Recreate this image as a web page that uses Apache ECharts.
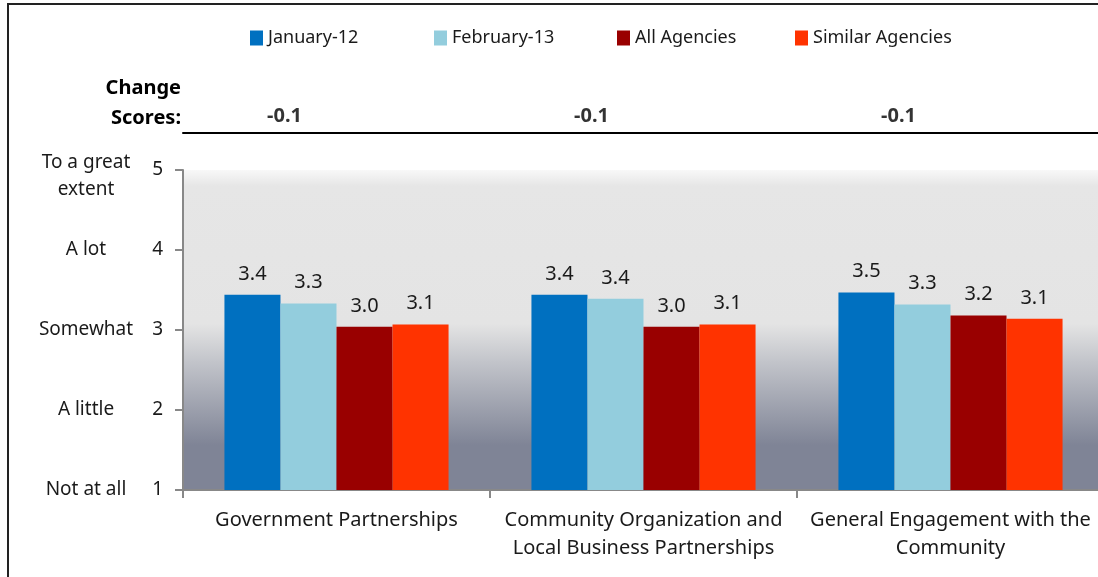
<!DOCTYPE html>
<html>
<head>
<meta charset="utf-8">
<script src="https://cdn.jsdelivr.net/npm/echarts@6/dist/echarts.min.js"></script>
<style>
  html, body { margin: 0; padding: 0; background: #fff; overflow: hidden; }
  #chart { width: 1104px; height: 577px; }
</style>
</head>
<body>
<div id="chart"></div>
<script>
// data
var categories = ['Government Partnerships', 'Community Organization and\nLocal Business Partnerships', 'General Engagement with the\nCommunity']
var seriesNames = ['January-12', 'February-13', 'All Agencies', 'Similar Agencies']
var jan12 = [3.44, 3.44, 3.47]
var feb13 = [3.33, 3.39, 3.32]
var allAgencies = [3.04, 3.04, 3.18]
var similarAgencies = [3.07, 3.07, 3.14]
var changeScores = [-0.1, -0.1, -0.1]
var levelNames = ['Not at all', 'A little', 'Somewhat', 'A lot', 'To a great\nextent']

var FONT = '"Noto Sans", "Open Sans", sans-serif'
var colors = ['#0070c0', '#93cddd', '#990000', '#ff3300']
var legendLeft = [245, 429, 612, 790]
var chart = echarts.init(document.getElementById('chart'))

function barSeries(i, data) {
  return {
    name: seriesNames[i],
    type: 'bar',
    data: data,
    barGap: '0%',
    barCategoryGap: '27%',
    itemStyle: { color: colors[i] },
    label: {
      show: true,
      position: 'top',
      distance: 11,
      color: '#1a1a1a',
      fontSize: 20,
      fontFamily: FONT,
      formatter: function (p) { return p.value.toFixed(1) }
    }
  }
}

// one legend per item so each sits where it does in the picture
var legends = seriesNames.map(function (name, i) {
  return {
    top: 24,
    left: legendLeft[i],
    itemWidth: 13,
    itemHeight: 15,
    icon: 'rect',
    textStyle: { fontSize: 18, color: '#1a1a1a', fontFamily: FONT },
    data: [name]
  }
})

chart.setOption({
  animation: false,
  textStyle: { fontFamily: FONT },
  legend: legends,
  graphic: [
    {
      type: 'rect',
      shape: { x: 8, y: 4, width: 1200, height: 700 },
      style: { fill: 'none', stroke: '#222', lineWidth: 2 },
      silent: true
    },
    {
      type: 'text',
      style: {
        text: 'Change\nScores:',
        x: 181,
        y: 103,
        align: 'right',
        verticalAlign: 'middle',
        lineHeight: 30,
        font: 'bold 20px ' + FONT,
        fill: '#000'
      }
    }
  ],
  grid: [
    {
      left: 183, top: 170, width: 921, height: 320,
      show: true,
      borderWidth: 0,
      backgroundColor: {
        type: 'linear', x: 0, y: 0, x2: 0, y2: 1,
        colorStops: [
          { offset: 0, color: '#f8f8f8' },
          { offset: 0.05, color: '#e6e6e6' },
          { offset: 0.48, color: '#e4e4e4' },
          { offset: 0.6, color: '#c2c4ca' },
          { offset: 0.86, color: '#7f8496' },
          { offset: 1, color: '#7f8496' }
        ]
      }
    },
    { left: 183, top: 95, width: 921, height: 38 }
  ],
  xAxis: [
    {
      type: 'category',
      data: categories,
      gridIndex: 0,
      axisLine: { lineStyle: { color: '#888', width: 2 } },
      axisTick: { show: true, length: 8, lineStyle: { color: '#888', width: 2 } },
      axisLabel: { interval: 0, fontSize: 20, color: '#1a1a1a', margin: 16, lineHeight: 28, fontFamily: FONT }
    },
    {
      type: 'category',
      data: categories,
      gridIndex: 1,
      axisLine: { onZero: false, lineStyle: { color: '#000', width: 2 } },
      axisTick: { show: false },
      axisLabel: { show: false }
    }
  ],
  yAxis: [
    {
      type: 'value',
      gridIndex: 0,
      min: 1, max: 5, interval: 1,
      axisLine: { show: true, lineStyle: { color: '#888', width: 2 } },
      axisTick: { show: true, length: 8, lineStyle: { color: '#888', width: 2 } },
      splitLine: { show: false },
      axisLabel: { fontSize: 19, color: '#1a1a1a', margin: 20, fontFamily: FONT }
    },
    {
      type: 'value',
      gridIndex: 0,
      position: 'left',
      min: 1, max: 5, interval: 1,
      axisLine: { show: false },
      axisTick: { show: false },
      splitLine: { show: false },
      axisLabel: {
        align: 'center',
        margin: 97,
        fontSize: 19,
        color: '#1a1a1a',
        fontFamily: FONT,
        formatter: function (v) {
          var n = levelNames[Math.round(v) - 1]
          return n.indexOf('\n') >= 0 ? '{two|' + n + '}' : n
        },
        rich: {
          two: { fontSize: 19, lineHeight: 27, padding: [12, 0, 0, 0], color: '#1a1a1a', fontFamily: FONT, align: 'center' }
        }
      }
    },
    {
      type: 'value',
      gridIndex: 1,
      min: -0.2, max: 0,
      show: false
    }
  ],
  series: [
    barSeries(0, jan12),
    barSeries(1, feb13),
    barSeries(2, allAgencies),
    barSeries(3, similarAgencies),
    {
      type: 'scatter',
      xAxisIndex: 1,
      yAxisIndex: 2,
      data: changeScores,
      symbolSize: 1,
      itemStyle: { color: 'rgba(0,0,0,0)' },
      label: {
        show: true,
        position: 'inside',
        offset: [-52, 2],
        fontSize: 20,
        fontWeight: 'bold',
        color: '#000',
        fontFamily: FONT,
        formatter: function (p) { return p.value.toFixed(1) }
      }
    }
  ]
})
</script>
</body>
</html>
